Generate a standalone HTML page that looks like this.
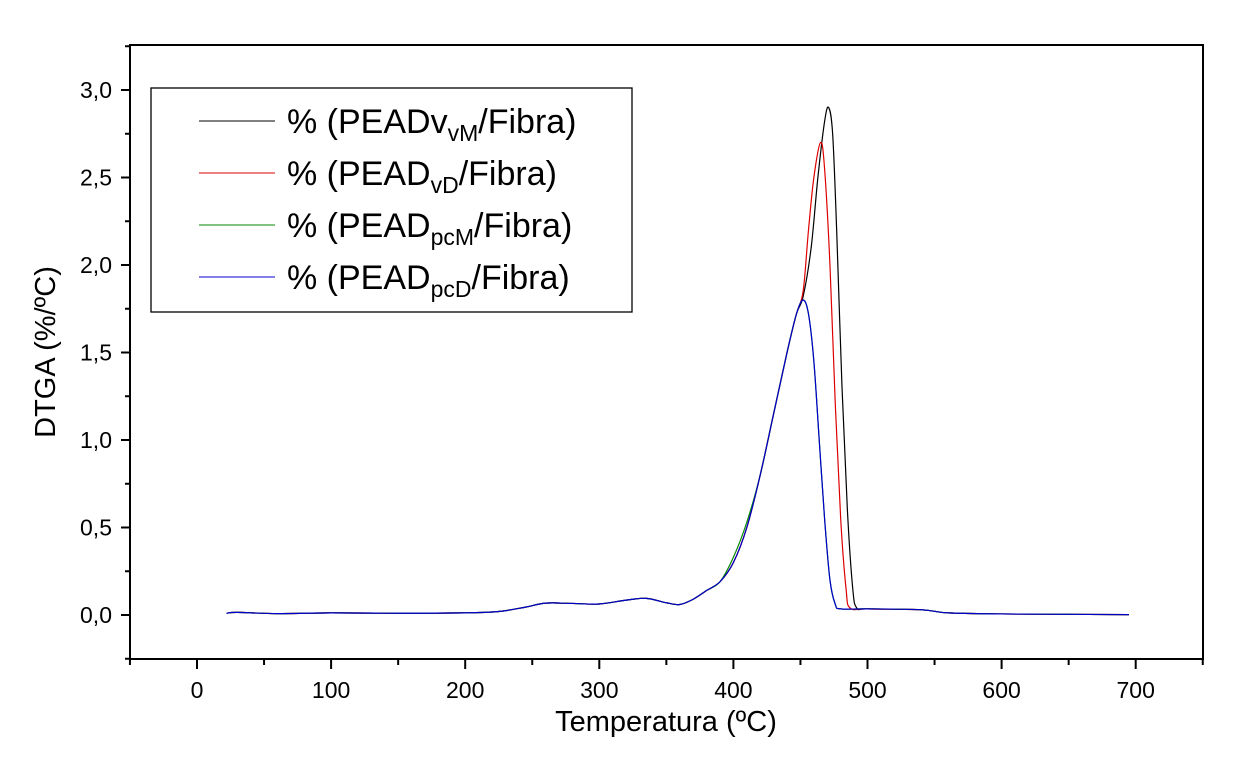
<!DOCTYPE html>
<html><head><meta charset="utf-8"><style>
body{margin:0;background:#fff}
svg{display:block}
text{font-family:"Liberation Sans",Arial,sans-serif;fill:#000}
</style></head><body>
<svg id="s" width="1234" height="757" xmlns="http://www.w3.org/2000/svg">
<rect x="130" y="45" width="1073" height="614" fill="none" stroke="#000" stroke-width="2"/>
<g id="ticks" stroke="#000" stroke-width="2"></g>
<g font-size="23" text-anchor="end" id="yl"></g>
<g font-size="23" text-anchor="middle" id="xl"></g>
<text x="666" y="731" font-size="29" text-anchor="middle">Temperatura (ºC)</text>
<text transform="translate(55,352) rotate(-90)" font-size="29" text-anchor="middle">DTGA (%/ºC)</text>
<g id="curves" fill="none" stroke-width="1.2"></g>
<rect x="151" y="88" width="481" height="224" fill="#fff" stroke="#000" stroke-width="1.3"/>
<g font-size="34">
<line x1="199" y1="121" x2="275" y2="121" stroke="#000"/>
<text x="287" y="133">% (PEADv<tspan font-size="23" dy="8">vM</tspan><tspan dy="-8">/Fibra)</tspan></text>
<line x1="199" y1="173" x2="275" y2="173" stroke="#d00"/>
<text x="287" y="185">% (PEAD<tspan font-size="23" dy="8">vD</tspan><tspan dy="-8">/Fibra)</tspan></text>
<line x1="199" y1="225" x2="275" y2="225" stroke="#080"/>
<text x="287" y="237">% (PEAD<tspan font-size="23" dy="8">pcM</tspan><tspan dy="-8">/Fibra)</tspan></text>
<line x1="199" y1="277" x2="275" y2="277" stroke="#00c"/>
<text x="287" y="289">% (PEAD<tspan font-size="23" dy="8">pcD</tspan><tspan dy="-8">/Fibra)</tspan></text>
</g>
</svg>
<script>
var NS="http://www.w3.org/2000/svg";
function X(t){return 197+1.341*t}function Y(v){return 615-175*v}
function el(p,n,a){var e=document.createElementNS(NS,n);for(var k in a)e.setAttribute(k,a[k]);document.getElementById(p).appendChild(e);return e}
for(var v=-0.25;v<=3.26;v+=0.25){var maj=Math.abs(v*2-Math.round(v*2))<1e-6;var y=Y(v);el("ticks","line",{x1:130,x2:maj?121:125,y1:y,y2:y});
if(maj){var t=el("yl","text",{x:112,y:y+8});t.textContent=v.toFixed(1).replace(".",",");}}
for(var t=-50;t<=750;t+=50){var maj=t%100==0;var x=X(t);el("ticks","line",{x1:x,x2:x,y1:659,y2:maj?669:665});
if(maj&&t>=0&&t<=700){var q=el("xl","text",{x:x,y:698});q.textContent=t;}}
var base=[[22,0.01],[30,0.015],[60,0.008],[100,0.012],[150,0.01],[200,0.012],[225,0.02],[245,0.045],[260,0.068],[280,0.066],[300,0.063],[320,0.085],[335,0.095],[350,0.07],[360,0.06],[370,0.09],[380,0.14],[390,0.19],[400,0.3],[410,0.5],[420,0.8],[430,1.15],[440,1.5],[447,1.72]];
var tail=[[540,0.03],[560,0.012],[600,0.006],[650,0.004],[695,0.002]];
function build(pts,col){var d="M"+X(pts[0][0])+","+Y(pts[0][1]);
for(var i=0;i<pts.length-1;i++){var a=pts[Math.max(0,i-1)],b=pts[i],c=pts[i+1],e=pts[Math.min(pts.length-1,i+2)];
var bx=X(b[0]),by=Y(b[1]),cx=X(c[0]),cy=Y(c[1]);
var c1x=bx+(cx-X(a[0]))/6,c1y=by+(cy-Y(a[1]))/6,c2x=cx-(X(e[0])-bx)/6,c2y=cy-(Y(e[1])-by)/6;
d+=" C"+c1x+","+c1y+" "+c2x+","+c2y+" "+cx+","+cy;}
el("curves","path",{d:d,stroke:col});}
var blk=base.concat([[452,1.82],[458,2.1],[463,2.5],[468,2.82],[471,2.9],[474,2.75],[477,2.2],[481,1.3],[485,0.6],[489,0.15],[492,0.04],[500,0.035]]).concat(tail);
var red=base.concat([[452,1.85],[456,2.2],[460,2.5],[465,2.7],[468,2.55],[472,2.0],[476,1.2],[480,0.55],[484,0.15],[487,0.04],[500,0.035]]).concat(tail);
var blu=base.concat([[452,1.8],[456,1.72],[460,1.45],[464,1.0],[468,0.55],[472,0.2],[476,0.06],[480,0.035],[500,0.035]]).concat(tail);
var grn=blu.map(function(p){return p[0]>395&&p[0]<415?[p[0],p[1]+0.03]:p});
build(blk,"#000");build(red,"#d00");build(grn,"#080");build(blu,"#00c");
</script>
</body></html>
